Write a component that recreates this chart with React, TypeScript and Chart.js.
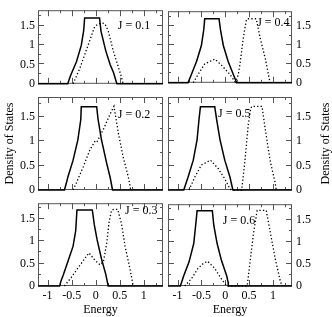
import React, { useEffect, useRef } from "react";
import { Chart, registerables } from "chart.js";

Chart.register(...registerables);

// ---------- data ----------
const jValues = [0.1, 0.2, 0.3, 0.4, 0.5, 0.6];
const xTickValues = [-1, -0.5, 0, 0.5, 1];
const yTickValues = [0, 0.5, 1, 1.5];
const xMinorTicks = [-0.75, -0.25, 0.25, 0.75, 1.25];
const yMinorTicks = [0.25, 0.75, 1.25, 1.75];

// J = 0.1
const solidE1 = [-1.2, -0.58, -0.55, -0.52, -0.4, -0.3, -0.25, -0.23, 0.08, 0.11, 0.21, 0.3, 0.37, 0.44, 1.4];
const solidD1 = [0, 0, 0.12, 0.22, 0.57, 0.99, 1.37, 1.7, 1.7, 1.36, 0.85, 0.5, 0.29, 0, 0];
const dotE1 = [-0.47, -0.4, -0.33, -0.16, -0.02, 0.05, 0.13, 0.19, 0.26, 0.365, 0.47, 0.53, 0.57];
const dotD1 = [0, 0.2, 0.4, 0.99, 1.48, 1.54, 1.57, 1.55, 1.37, 0.85, 0.44, 0.2, 0];

// J = 0.2
const solidE2 = [-1.2, -0.65, -0.6, -0.58, -0.47, -0.37, -0.31, -0.3, 0.02, 0.05, 0.12, 0.23, 0.3, 0.35, 1.4];
const solidD2 = [0, 0, 0.18, 0.26, 0.61, 1.03, 1.44, 1.7, 1.7, 1.44, 1.03, 0.54, 0.26, 0, 0];
const dotE2 = [-0.47, -0.4, -0.26, -0.12, -0.02, 0.02, 0.16, 0.3, 0.38, 0.47, 0.57, 0.68, 0.73];
const dotD2 = [0, 0.15, 0.47, 0.82, 0.99, 0.97, 1.24, 1.55, 1.71, 1.17, 0.68, 0.26, 0];

// J = 0.3
const solidE3 = [-1.2, -0.75, -0.72, -0.68, -0.58, -0.47, -0.415, -0.39, -0.07, -0.03, 0.03, 0.12, 0.21, 0.26, 1.4];
const solidD3 = [0, 0, 0.12, 0.23, 0.54, 0.89, 1.24, 1.7, 1.7, 1.375, 1.03, 0.61, 0.26, 0, 0];
const dotE3 = [-0.65, -0.51, -0.37, -0.23, -0.14, -0.02, 0.09, 0.16, 0.23, 0.28, 0.33, 0.37, 0.46, 0.54, 0.61, 0.71, 0.78];
const dotD3 = [0, 0.19, 0.4, 0.61, 0.74, 0.58, 0.47, 0.54, 0.96, 1.44, 1.69, 1.71, 1.71, 1.375, 0.89, 0.4, 0];

// J = 0.4
const solidE4 = [-1.2, -0.78, -0.71, -0.6, -0.5, -0.45, -0.43, -0.13, -0.1, -0.04, 0.06, 0.17, 0.24, 1.4];
const solidD4 = [0, 0, 0.22, 0.57, 0.99, 1.41, 1.7, 1.7, 1.41, 0.99, 0.57, 0.22, 0, 0];
const dotE4 = [-0.67, -0.57, -0.43, -0.22, -0.08, 0.1, 0.21, 0.27, 0.31, 0.38, 0.44, 0.46, 0.65, 0.73, 0.84, 0.94];
const dotD4 = [0, 0.22, 0.5, 0.63, 0.47, 0.22, 0.02, 0.2, 0.5, 1.2, 1.65, 1.7, 1.7, 1.2, 0.64, 0];

// J = 0.5
const solidE5 = [-1.2, -0.87, -0.78, -0.67, -0.59, -0.55, -0.52, -0.22, -0.18, -0.11, -0.01, 0.1, 0.16, 1.4];
const solidD5 = [0, 0, 0.26, 0.61, 1.03, 1.44, 1.7, 1.7, 1.44, 1.03, 0.61, 0.26, 0, 0];
const dotE5 = [-0.76, -0.64, -0.5, -0.31, -0.15, -0.01, 0.1, 0.13, 0.345, 0.415, 0.48, 0.535, 0.56, 0.77, 0.84, 0.94, 1.05, 1.07];
const dotD5 = [0, 0.26, 0.51, 0.61, 0.44, 0.23, 0.02, 0, 0, 0.61, 1.31, 1.67, 1.71, 1.71, 1.24, 0.61, 0.13, 0];

// J = 0.6
const solidE6 = [-1.2, -0.94, -0.87, -0.76, -0.66, -0.62, -0.59, -0.27, -0.24, -0.17, -0.08, 0.03, 0.06, 0.065, 1.4];
const solidD6 = [0, 0, 0.23, 0.54, 0.96, 1.375, 1.7, 1.7, 1.375, 0.96, 0.58, 0.23, 0.09, 0, 0];
const dotE6 = [-0.85, -0.71, -0.57, -0.46, -0.37, -0.22, -0.08, 0.02, 0.04, 0.46, 0.52, 0.59, 0.66, 0.67, 0.86, 0.94, 1.05, 1.15, 1.19];
const dotD6 = [0, 0.16, 0.4, 0.51, 0.56, 0.4, 0.16, 0.02, 0, 0, 0.54, 1.17, 1.65, 1.71, 1.71, 1.24, 0.61, 0.13, 0];

const solidE = [solidE1, solidE2, solidE3, solidE4, solidE5, solidE6];
const solidD = [solidD1, solidD2, solidD3, solidD4, solidD5, solidD6];
const dotE = [dotE1, dotE2, dotE3, dotE4, dotE5, dotE6];
const dotD = [dotD1, dotD2, dotD3, dotD4, dotD5, dotD6];

// ---------- layout / style ----------
const FONT = "'Liberation Serif', 'Times New Roman', serif";
const FRAME = "#555";
const labelAnchors = [
  [0.46, 1.5],
  [0.46, 1.53],
  [0.61, 1.69],
  [0.67, 1.58],
  [-0.15, 1.55],
  [-0.05, 1.48],
];
const rowCanvas = [
  { top: 0, height: 94, padTop: 0, padBottom: 3, yMax: 1.9 },
  { top: 84, height: 119, padTop: 13, padBottom: 13, yMax: 1.9 },
  { top: 193, height: 124, padTop: 4, padBottom: 0, yMax: 1.85 },
];
const colCanvas = [
  { left: 0, width: 166, padLeft: 0, padRight: 3, axisW: 38 },
  { left: 166, width: 166, padLeft: 2, padRight: 0, axisW: 40 },
];

function makePts(xs: number[], ys: number[]) {
  return xs.map((x, i) => ({ x, y: ys[i] }));
}

function Panel({ idx }: { idx: number }) {
  const ref = useRef<HTMLCanvasElement | null>(null);
  const col = idx < 3 ? 0 : 1;
  const row = idx % 3;
  const rc = rowCanvas[row];
  const cc = colCanvas[col];

  useEffect(() => {
    if (!ref.current) return;
    const deco = {
      id: "deco",
      beforeDatasetsDraw(chart: any) {
        const { ctx, chartArea: a, scales } = chart;
        const x = scales.x;
        const y = scales.y;
        ctx.save();
        ctx.strokeStyle = FRAME;
        ctx.lineWidth = 1;
        ctx.beginPath();
        const xt = [...xTickValues.map((v) => [v, 6]), ...xMinorTicks.map((v) => [v, 3])];
        for (const [v, len] of xt) {
          const px = Math.round(x.getPixelForValue(v)) + 0.5;
          ctx.moveTo(px, a.bottom);
          ctx.lineTo(px, a.bottom - len);
          ctx.moveTo(px, a.top);
          ctx.lineTo(px, a.top + len);
        }
        const yt = [...yTickValues.map((v) => [v, 6]), ...yMinorTicks.map((v) => [v, 3])];
        for (const [v, len] of yt) {
          if (v > y.max) continue;
          const py = Math.round(y.getPixelForValue(v)) - 0.5;
          ctx.moveTo(a.left, py);
          ctx.lineTo(a.left + len, py);
          ctx.moveTo(a.right, py);
          ctx.lineTo(a.right - len, py);
        }
        ctx.stroke();
        ctx.strokeRect(a.left + 0.5, a.top + 0.5, a.right - a.left - 1, a.bottom - a.top - 1);
        ctx.restore();
      },
      afterDatasetsDraw(chart: any) {
        const { ctx, chartArea: a, scales } = chart;
        ctx.save();
        ctx.fillStyle = "#000";
        ctx.font = `12px ${FONT}`;
        ctx.textAlign = "left";
        ctx.textBaseline = "middle";
        const [lx, ly] = labelAnchors[idx];
        ctx.fillText(`J = ${jValues[idx]}`, scales.x.getPixelForValue(lx), scales.y.getPixelForValue(ly));
        if (row === 1) {
          ctx.font = `12px ${FONT}`;
          ctx.textAlign = "center";
          const cx = col === 0 ? 9.5 : 159.5;
          const cy = (a.top + a.bottom) / 2;
          ctx.translate(cx, cy);
          ctx.rotate(-Math.PI / 2);
          ctx.fillText("Density of States", 0, 0);
        }
        ctx.restore();
      },
    };

    const chart = new Chart(ref.current, {
      type: "line",
      data: {
        datasets: [
          {
            data: makePts(solidE[idx], solidD[idx]),
            borderColor: "#000",
            borderWidth: 1.5,
            pointRadius: 0,
            tension: 0,
            fill: false,
            clip: false as any,
          },
          {
            data: makePts(dotE[idx], dotD[idx]),
            borderColor: "#000",
            borderWidth: 1.3,
            borderDash: [1.3, 2.2],
            pointRadius: 0,
            tension: 0,
            fill: false,
            clip: false as any,
          },
        ],
      },
      options: {
        animation: false,
        responsive: false,
        maintainAspectRatio: false,
        events: [],
        layout: {
          padding: { left: cc.padLeft, right: cc.padRight, top: rc.padTop, bottom: rc.padBottom },
        },
        plugins: { legend: { display: false }, tooltip: { enabled: false } },
        scales: {
          x: {
            type: "linear",
            min: -1.2,
            max: 1.4,
            display: row === 2,
            position: "bottom",
            grid: { display: false, drawTicks: false },
            border: { display: false },
            ticks: {
              stepSize: 0.5,
              includeBounds: false,
              autoSkip: false,
              maxRotation: 0,
              padding: 3,
              color: "#000",
              font: { family: FONT, size: 12 },
              callback: (v: any) => String(v),
            },
            title: {
              display: true,
              text: "Energy",
              color: "#000",
              font: { family: FONT, size: 12 },
              padding: { top: 0, bottom: 0 },
            },
            afterFit: (s: any) => {
              s.height = row === 2 ? 31 : 0;
            },
          },
          y: {
            type: "linear",
            min: 0,
            max: rc.yMax,
            position: col === 0 ? "left" : "right",
            grid: { display: false, drawTicks: false },
            border: { display: false },
            ticks: {
              stepSize: 0.5,
              includeBounds: false,
              autoSkip: false,
              padding: col === 0 ? 3 : 4,
              color: "#000",
              font: { family: FONT, size: 12 },
              callback: (v: any) => String(v),
            },
            afterFit: (s: any) => {
              s.width = cc.axisW;
            },
          },
        },
      } as any,
      plugins: [deco],
    });
    return () => chart.destroy();
  }, [idx]);

  return (
    <canvas
      ref={ref}
      width={cc.width}
      height={rc.height}
      style={{
        position: "absolute",
        left: cc.left,
        top: rc.top,
        width: cc.width,
        height: rc.height,
      }}
    />
  );
}

export default function App() {
  return (
    <div
      style={{
        position: "absolute",
        left: 0,
        top: 0,
        width: 332,
        height: 317,
        background: "#fff",
        overflow: "hidden",
      }}
    >
      {jValues.map((_, i) => (
        <Panel key={i} idx={i} />
      ))}
    </div>
  );
}
